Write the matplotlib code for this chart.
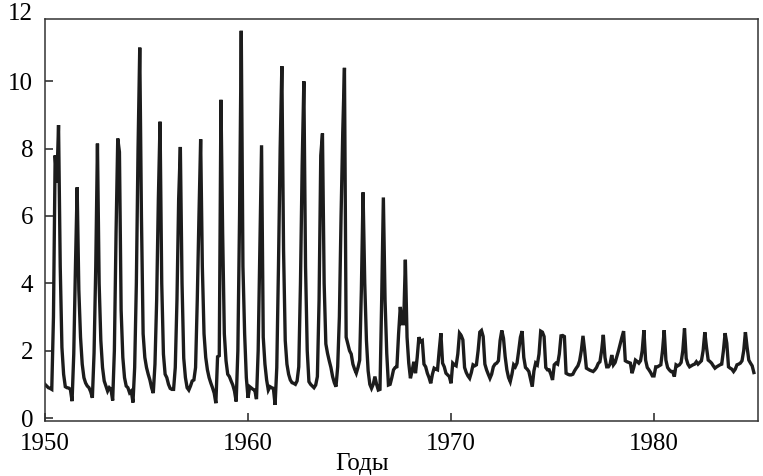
import matplotlib
matplotlib.use("Agg")
import matplotlib.pyplot as plt
import numpy as np

# monthly values, one row per year (Jan..Dec)
flow_1950s = [
    [1.0, 0.95, 0.9, 0.88, 0.85, 3.0, 7.8, 7.0, 8.7, 4.5, 2.1, 1.3],
    [0.93, 0.9, 0.89, 0.85, 0.5, 1.9, 4.5, 6.85, 3.8, 2.4, 1.6, 1.2],
    [1.04, 0.95, 0.9, 0.78, 0.6, 1.93, 4.5, 8.15, 4.0, 2.3, 1.5, 1.1],
    [0.95, 0.8, 0.9, 0.85, 0.52, 2.0, 5.5, 8.3, 7.9, 3.2, 1.8, 1.2],
    [0.95, 0.9, 0.75, 0.8, 0.46, 1.5, 4.0, 8.0, 11.0, 6.0, 2.5, 1.8],
    [1.5, 1.3, 1.13, 0.9, 0.74, 1.6, 3.5, 6.5, 8.8, 4.0, 1.9, 1.3],
    [1.2, 1.0, 0.88, 0.85, 0.85, 1.5, 3.5, 6.5, 8.05, 4.0, 1.78, 1.2],
    [0.9, 0.83, 0.95, 1.1, 1.13, 1.5, 3.5, 6.0, 8.28, 4.5, 2.5, 1.8],
    [1.43, 1.2, 1.04, 0.9, 0.74, 0.44, 1.82, 1.85, 9.45, 5.5, 2.5, 1.7],
    [1.3, 1.23, 1.1, 0.98, 0.8, 0.49, 2.0, 6.0, 11.5, 4.5, 2.5, 1.2],
]
flow_1960s = [
    [0.6, 0.93, 0.89, 0.85, 0.83, 0.56, 2.0, 5.0, 8.1, 2.4, 1.6, 1.13],
    [0.83, 0.93, 0.9, 0.88, 0.39, 1.5, 4.5, 8.0, 10.45, 5.0, 2.3, 1.6],
    [1.3, 1.13, 1.05, 1.03, 1.0, 1.1, 1.52, 4.0, 7.5, 10.0, 4.5, 2.0],
    [1.08, 1.0, 0.95, 0.9, 0.98, 1.23, 3.5, 7.8, 8.45, 4.0, 2.2, 1.92],
    [1.7, 1.5, 1.23, 1.05, 0.93, 1.52, 3.0, 6.0, 8.5, 10.4, 2.4, 2.2],
    [2.0, 1.9, 1.6, 1.45, 1.33, 1.5, 1.72, 3.8, 6.7, 4.0, 2.3, 1.4],
    [1.0, 0.88, 1.0, 1.23, 1.0, 0.83, 0.85, 3.5, 6.55, 3.5, 1.92, 0.98],
    [1.0, 1.2, 1.43, 1.5, 1.52, 2.5, 3.3, 2.8, 2.8, 4.7, 2.4, 1.63],
    [1.18, 1.4, 1.67, 1.33, 1.8, 2.4, 2.27, 2.3, 1.6, 1.52, 1.33, 1.2],
    [1.03, 1.3, 1.48, 1.45, 1.43, 2.0, 2.52, 1.63, 1.52, 1.33, 1.28, 1.23],
]
flow_1970s = [
    [1.03, 1.63, 1.58, 1.55, 1.9, 2.52, 2.45, 2.32, 1.5, 1.35, 1.25, 1.18],
    [1.35, 1.58, 1.55, 1.58, 2.0, 2.55, 2.6, 2.42, 1.6, 1.43, 1.3, 1.18],
    [1.3, 1.52, 1.6, 1.63, 1.7, 2.3, 2.6, 2.37, 1.82, 1.43, 1.2, 1.08],
    [1.3, 1.58, 1.52, 1.63, 2.0, 2.4, 2.58, 1.8, 1.5, 1.45, 1.38, 1.15],
    [0.93, 1.4, 1.63, 1.58, 1.9, 2.58, 2.55, 2.42, 1.5, 1.43, 1.43, 1.3],
    [1.13, 1.58, 1.63, 1.6, 1.9, 2.44, 2.45, 2.42, 1.33, 1.3, 1.28, 1.28],
    [1.3, 1.4, 1.48, 1.55, 1.7, 2.0, 2.44, 2.0, 1.48, 1.45, 1.42, 1.4],
    [1.38, 1.43, 1.5, 1.62, 1.67, 2.0, 2.47, 1.8, 1.52, 1.52, 1.6, 1.87],
    [1.58, 1.65, 1.82, 2.0, 2.2, 2.4, 2.58, 1.7, 1.67, 1.65, 1.63, 1.33],
    [1.5, 1.72, 1.68, 1.63, 1.7, 2.0, 2.61, 1.72, 1.5, 1.43, 1.35, 1.25],
]
flow_1980s = [
    [1.25, 1.52, 1.52, 1.55, 1.58, 2.0, 2.61, 1.72, 1.5, 1.43, 1.38, 1.38],
    [1.23, 1.58, 1.55, 1.58, 1.65, 2.0, 2.66, 1.77, 1.6, 1.52, 1.55, 1.58],
    [1.6, 1.67, 1.6, 1.65, 1.7, 2.0, 2.55, 2.1, 1.72, 1.68, 1.63, 1.55],
    [1.48, 1.52, 1.55, 1.58, 1.6, 2.0, 2.52, 2.22, 1.52, 1.48, 1.45, 1.38],
    [1.45, 1.58, 1.6, 1.63, 1.7, 2.0, 2.55, 2.1, 1.72, 1.63, 1.55, 1.35],
]
start_year = 1950
x_ticks = [1950, 1960, 1970, 1980]
y_ticks = [0, 2, 4, 6, 8, 10]

plt.rcParams['font.family'] = ['Liberation Serif', 'DejaVu Serif']
plt.rcParams['font.size'] = 18

values = np.concatenate([np.ravel(flow_1950s), np.ravel(flow_1960s),
                         np.ravel(flow_1970s), np.ravel(flow_1980s)])
years = start_year + np.arange(len(values)) / 12.0

fig = plt.figure(figsize=(7.63, 4.76), dpi=100)
ax = fig.add_axes([45/763, 1 - 420.7/476, 713/763, (420.7 - 19)/476])

ax.plot(years, values, color='#1c1c1c', lw=2.4, solid_joinstyle='miter')

ax.set_xlim(1950, 1985.12)
ax.set_ylim(-0.08, 11.85)
ax.set_xticks(x_ticks)
ax.set_yticks(y_ticks)
ax.tick_params(direction='in', length=6, width=1.1, pad=8.5, color='#222222')
ax.text(-0.0165, 12, '12', transform=ax.get_yaxis_transform(), ha='right',
        va='center', clip_on=False)

for s in ax.spines.values():
    s.set_linewidth(1.1)
    s.set_color('#333333')

fig.text(362/763, 1 - 470/476, 'Годы', ha='center', va='baseline')

fig.savefig('out.png', dpi=100)
